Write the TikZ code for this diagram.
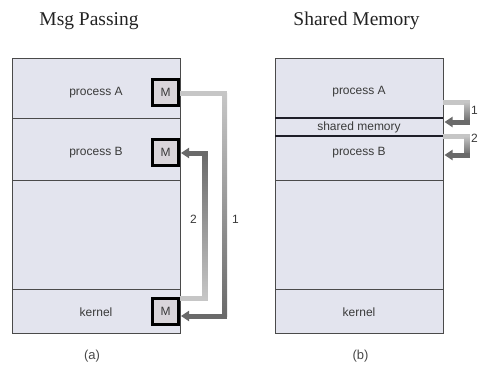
\documentclass[tikz,border=0pt]{standalone}
\usepackage{fontspec}
\setmainfont{Liberation Serif}
\newfontfamily\labelfont{Liberation Sans}
\usetikzlibrary{arrows.meta,calc}

\definecolor{panelfill}{HTML}{E3E4EE}
\definecolor{panelline}{HTML}{4A4A4A}
\definecolor{msgfill}{HTML}{D9D5DA}
\definecolor{pipelight}{HTML}{C6C6C6}
\definecolor{pipedark}{HTML}{6A6A6A}
\definecolor{labelgray}{HTML}{3A3A3A}
\definecolor{titlegray}{HTML}{222222}
\definecolor{captiongray}{HTML}{484848}
\definecolor{sharedline}{HTML}{1E1E28}

% #1 start, #2 end, #3 x of the bend, #4 start colour, #5 end colour,
% #6 shading colour at the top, #7 shading colour at the bottom
\newcommand{\pipeconnector}[7]{%
  \draw[pipe, draw=#4] (#1) -- ($(#1 -| #3)+(2.5,0)$);
  \shade[top color=#6, bottom color=#7]
    ($(#1 -| #3)+(-2.5,0)$) rectangle ($(#2 -| #3)+(2.5,0)$);
  \draw[pipe, draw=#5, -{Triangle[length=8pt,width=10pt]}]
    ($(#2 -| #3)+(2.5,0)$) -- (#2);
}

\begin{document}
\begin{tikzpicture}[x=1pt,y=-1pt,
  region/.style={draw=panelline, fill=panelfill, line width=0.9pt,
    minimum width=168pt, inner sep=0pt, outer sep=0pt, anchor=north west},
  txt/.style={font=\labelfont\fontsize{12}{14}\selectfont, text=labelgray, inner sep=0pt},
  title/.style={font=\fontsize{19.5}{22}\selectfont, text=titlegray, inner sep=0pt},
  caption/.style={font=\labelfont\fontsize{13}{15}\selectfont, text=captiongray, inner sep=0pt},
  msg/.style={draw=black, line width=3pt, fill=msgfill, minimum width=26pt,
    minimum height=26pt, inner sep=0pt, font=\labelfont\fontsize{12}{14}\selectfont,
    text=labelgray},
  pipe/.style={line width=5pt},
  sharededge/.style={draw=sharedline, line width=2.6pt},
]
\useasboundingbox (0,0) rectangle (478,364);

% ---------- titles and captions ----------
\node[title] (tmsg) at (89,21) {Msg Passing};
\node[title] (tshm) at (356.5,21) {Shared Memory};
\node[caption] (capa) at (92,356.5) {(a)};
\node[caption] (capb) at (360.5,356.5) {(b)};

% ---------- (a) message passing ----------
\node[region, minimum height=60pt]  (aA) at (12,58)  {};
\node[region, minimum height=62pt]  (aB) at (12,118) {};
\node[region, minimum height=109pt] (aF) at (12,180) {};
\node[region, minimum height=44pt]  (aK) at (12,289) {};

\node[txt] (laA) at (96,93)  {process A};
\node[txt] (laB) at (96,153) {process B};
\node[txt] (laK) at (96,312) {kernel};

% bends of the two message paths
\coordinate (bendone) at (224.5,0);
\coordinate (bendtwo) at (205,0);

\coordinate (mApos) at (165.5,92.5);
\coordinate (mBpos) at (165.5,152);
\coordinate (mKpos) at (165.5,311);

\node[msg] (mA) at (mApos) {M};
\node[msg] (mB) at (mBpos) {M};
\node[msg] (mK) at (mKpos) {M};

\coordinate (oneStart) at ($(mA.east)+(0,1)$);
\coordinate (oneEnd)   at ($(mK.east)+(1,5)$);
\coordinate (twoStart) at ($(mK.east)+(0,-12.5)$);
\coordinate (twoEnd)   at ($(mB.east)+(1,1)$);

\pipeconnector{oneStart}{oneEnd}{bendone}{pipelight}{pipedark}{pipelight}{pipedark}
\pipeconnector{twoStart}{twoEnd}{bendtwo}{pipelight}{pipedark}{pipedark}{pipelight}

% redraw the message boxes over the pipe ends
\node[msg] at (mApos) {M};
\node[msg] at (mBpos) {M};
\node[msg] at (mKpos) {M};

\node[txt] (ltwo) at (193.5,219.5) {2};
\node[txt] (lone) at (235.5,219.5) {1};

% ---------- (b) shared memory ----------
\node[region, minimum height=60pt]  (bA) at (275,58)  {};
\node[region, minimum height=18pt]  (bS) at (275,118) {};
\node[region, minimum height=44pt]  (bB) at (275,136) {};
\node[region, minimum height=109pt] (bF) at (275,180) {};
\node[region, minimum height=44pt]  (bK) at (275,289) {};

\draw[sharededge] (bS.north west) -- (bS.north east);
\draw[sharededge] (bS.south west) -- (bS.south east);

\node[txt] (lbA) at (359,92)  {process A};
\node[txt] (lbS) at (359,127) {shared memory};
\node[txt] (lbB) at (359,153) {process B};
\node[txt] (lbK) at (359,312) {kernel};

\coordinate (bendright) at (467,0);
\coordinate (wStart) at ($(bA.north east)+(0,44)$);
\coordinate (wEnd)   at ($(bS.east)+(1.5,-5)$);
\coordinate (rStart) at ($(bB.north east)+(0,0)$);
\coordinate (rEnd)   at ($(bB.north east)+(1.5,19)$);

\pipeconnector{wStart}{wEnd}{bendright}{pipelight}{pipedark}{pipelight}{pipedark}
\pipeconnector{rStart}{rEnd}{bendright}{pipelight}{pipedark}{pipelight}{pipedark}

\node[txt, anchor=east] (lrone) at (478,110) {1};
\node[txt, anchor=east] (lrtwo) at (478,138) {2};
\end{tikzpicture}
\end{document}
